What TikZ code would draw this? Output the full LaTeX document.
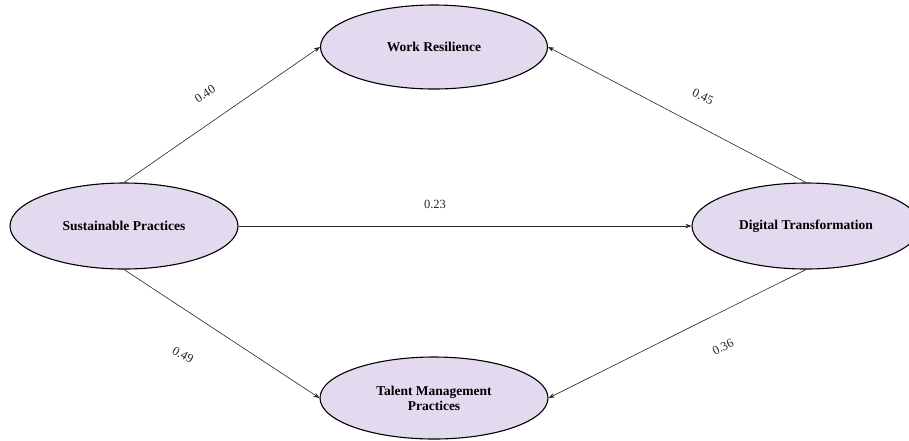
\documentclass[tikz,border=0pt]{standalone}
\usepackage{fontspec}
\setmainfont{Liberation Serif}
\usetikzlibrary{shapes.geometric,arrows.meta}
\definecolor{construct}{HTML}{E4DAF0}
\begin{document}
\begin{tikzpicture}[x=1pt,y=-1pt,
  latent/.style={ellipse,draw=black,line width=1.1pt,fill=construct,inner sep=0pt,
    align=center,font=\fontsize{13.5}{15}\selectfont\bfseries},
  path/.style={draw=black!85,line width=0.6pt,-{Stealth[length=6pt,width=4.5pt]}},
  coef/.style={font=\fontsize{12.5}{14}\selectfont,text=black!85}]
\useasboundingbox[fill=white] (0,0) rectangle (909,440);
\clip (0,0) rectangle (909,440);

% constructs
\node[latent,minimum width=227pt,minimum height=84pt] (wr) at (434,47) {Work Resilience};
\node[latent,minimum width=228pt,minimum height=86pt] (sp) at (124,226) {Sustainable Practices};
\node[latent,minimum width=228pt,minimum height=86pt] (dt) at (806,226) {Digital Transformation};
\node[latent,minimum width=228pt,minimum height=82pt] (tm) at (434,398) {Talent Management\\Practices};

% structural paths
\draw[path] (sp.north) -- (wr.west);
\draw[path] (dt.north) -- (wr.east);
\draw[path] (sp.east) -- (dt.west);
\draw[path] (sp.south) -- (tm.west);
\draw[path] (dt.south) -- (tm.east);

% path coefficients
\node[coef,rotate=33] (c1) at (205,94) {0.40};
\node[coef,rotate=-26] (c2) at (703,97) {0.45};
\node[coef] (c3) at (435,204) {0.23};
\node[coef,rotate=-30] (c4) at (183,355) {0.49};
\node[coef,rotate=27] (c5) at (723,347) {0.36};
\end{tikzpicture}
\end{document}
